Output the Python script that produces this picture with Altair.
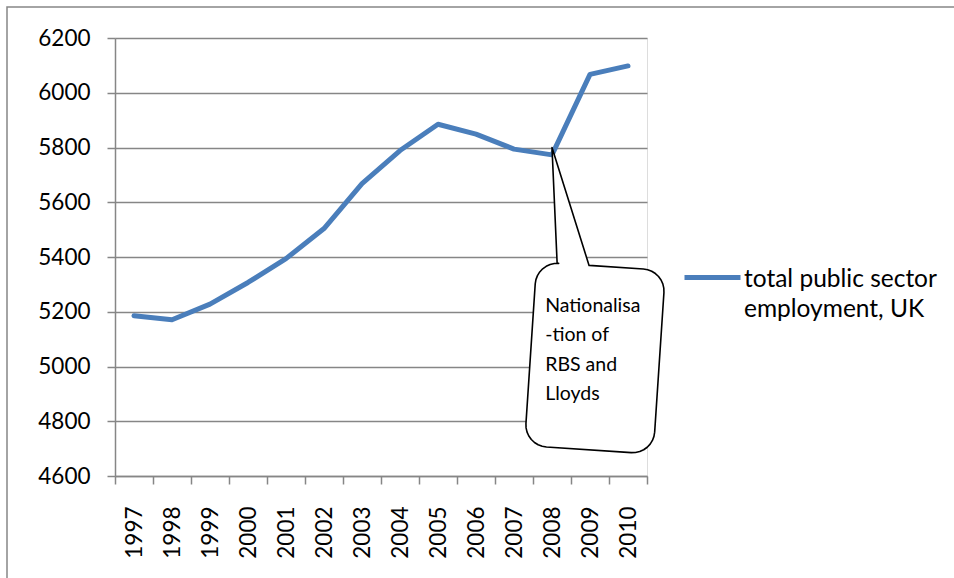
import math
import altair as alt
import pandas as pd

# ---- data -------------------------------------------------------------
YEARS = [1997, 1998, 1999, 2000, 2001, 2002, 2003, 2004, 2005, 2006, 2007, 2008, 2009, 2010]
EMPLOYMENT = [5185, 5171, 5228, 5307, 5394, 5504, 5668, 5789, 5885, 5849, 5794, 5773, 6067, 6098]
SERIES_NAME = "total public sector employment, UK"
Y_TICKS = [4600, 4800, 5000, 5200, 5400, 5600, 5800, 6000, 6200]
CALLOUT_LINES = ["Nationalisa", "-tion of", "RBS and", "Lloyds"]

# ---- layout -----------------------------------------------------------
W, H = 532, 438
LEFT, TOP = 115, 38
X_DOMAIN = [YEARS[0] - 0.5, YEARS[-1] + 0.5]
Y_DOMAIN = [Y_TICKS[0], Y_TICKS[-1]]
FONT = "Lato"
GREY = "#868686"
BLUE = "#4A7EBB"

px_per_year = W / (X_DOMAIN[1] - X_DOMAIN[0])
px_per_unit = H / (Y_DOMAIN[1] - Y_DOMAIN[0])

line_df = pd.DataFrame({"year": YEARS, "value": EMPLOYMENT, "series": SERIES_NAME})

# ---- callout outline (rounded, slightly tilted speech bubble) ---------
TIP = (2008, 5800)                 # where the pointer touches the line
BOX_CENTER = (2009.13, 5031)       # in data units
BOX_W, BOX_H, CORNER = 129, 184, 22   # pixels
TILT = math.radians(3.8)
POINTER_BASE = (-44, -12)          # along the top edge, pixels from centre


def local_to_data(px, py):
    rx = px * math.cos(TILT) - py * math.sin(TILT)
    ry = px * math.sin(TILT) + py * math.cos(TILT)
    return BOX_CENTER[0] + rx / px_per_year, BOX_CENTER[1] - ry / px_per_unit


def arc(cx, cy, a0, a1, n=8):
    return [(cx + CORNER * math.cos(math.radians(a0 + (a1 - a0) * i / n)),
             cy + CORNER * math.sin(math.radians(a0 + (a1 - a0) * i / n))) for i in range(n + 1)]


hw, hh = BOX_W / 2, BOX_H / 2
outline = [(POINTER_BASE[1], -hh)]
outline += arc(hw - CORNER, -hh + CORNER, -90, 0)
outline += arc(hw - CORNER, hh - CORNER, 0, 90)
outline += arc(-hw + CORNER, hh - CORNER, 90, 180)
outline += arc(-hw + CORNER, -hh + CORNER, 180, 270)
outline += [(POINTER_BASE[0], -hh)]
pts = [local_to_data(x, y) for x, y in outline] + [TIP]
callout_df = pd.DataFrame({"year": [p[0] for p in pts], "value": [p[1] for p in pts],
                           "order": list(range(len(pts)))})
text_df = pd.DataFrame({"year": [2007.82], "value": [5200]})

# ---- scales and axes --------------------------------------------------
x_scale = alt.Scale(domain=X_DOMAIN, nice=False, zero=False)
y_scale = alt.Scale(domain=Y_DOMAIN, nice=False, zero=False)

# ticks sit on the category boundaries; each label is slid half a band
# to the right so that it sits under its year
band_px = px_per_year
x_ticks = [y - 0.5 for y in YEARS] + [YEARS[-1] + 0.5]
x_axis = alt.Axis(
    values=x_ticks, tickCount=len(x_ticks) + 5,
    labelExpr=f"datum.value < {YEARS[-1]} ? format(datum.value + 0.5, 'd') : ''",
    labelOffset=band_px / 2,
    labelAngle=270, labelOverlap=False, labelFlush=False, labelBound=False,
    labelFont=FONT, labelFontSize=22.5, labelColor="black", labelPadding=22,
    tickSize=8, tickColor=GREY, tickWidth=1.5,
    domainColor=GREY, domainWidth=1.5, grid=False, title=None,
)
y_axis = alt.Axis(
    values=Y_TICKS, format="d", tickCount=len(Y_TICKS) + 5,
    labelFont=FONT, labelFontSize=22.5, labelColor="black", labelPadding=17,
    tickSize=8, tickColor=GREY, tickWidth=1.5,
    domainColor=GREY, domainWidth=1.5,
    grid=True, gridColor=GREY, gridWidth=1.5, title=None,
)

frame = alt.Chart(pd.DataFrame({"k": [0]})).mark_rect(
    fill="white", fillOpacity=0, stroke=GREY, strokeWidth=1.5
).encode(
    x=alt.value(7 - LEFT), x2=alt.value(1000), y=alt.value(7 - TOP), y2=alt.value(700)
)

line = alt.Chart(line_df).mark_line(
    strokeWidth=5, strokeCap="round", strokeJoin="round"
).encode(
    x=alt.X("year:Q", scale=x_scale, axis=x_axis),
    y=alt.Y("value:Q", scale=y_scale, axis=y_axis),
    color=alt.Color(
        "series:N",
        scale=alt.Scale(range=[BLUE]),
        legend=alt.Legend(
            title=None, orient="none", legendX=567, legendY=218,
            symbolType="M-1,-0.32H1", symbolSize=3136, symbolStrokeWidth=5,
            labelExpr="split(replace(datum.label, 'sector ', 'sector|'), '|')",
            labelFont=FONT, labelFontSize=24.5, labelColor="black",
            labelBaseline="alphabetic", labelOffset=1, labelLimit=400,
        ),
    ),
)

bubble = alt.Chart(callout_df).mark_line(
    interpolate="linear-closed", fill="white", stroke="black", strokeWidth=1.6,
    strokeJoin="round"
).encode(
    x=alt.X("year:Q", scale=x_scale, title=None),
    y=alt.Y("value:Q", scale=y_scale, title=None),
    order="order:Q",
)

bubble_text = alt.Chart(text_df).mark_text(
    text=CALLOUT_LINES, align="left", baseline="alphabetic",
    font=FONT, fontSize=19.5, lineHeight=29.5, color="black"
).encode(
    x=alt.X("year:Q", scale=x_scale, title=None),
    y=alt.Y("value:Q", scale=y_scale, title=None),
)

chart = alt.layer(frame, line, bubble, bubble_text).properties(
    width=W, height=H,
    padding={"left": LEFT, "top": TOP, "right": 954 - LEFT - W, "bottom": 578 - TOP - H},
    autosize=alt.AutoSizeParams(type="none"),
    background="white",
).configure_view(strokeOpacity=0).configure(
    style={"guide-label": {"lineHeight": 30}}
)

chart.save("out.html", embed_options={"renderer": "svg", "actions": False})
